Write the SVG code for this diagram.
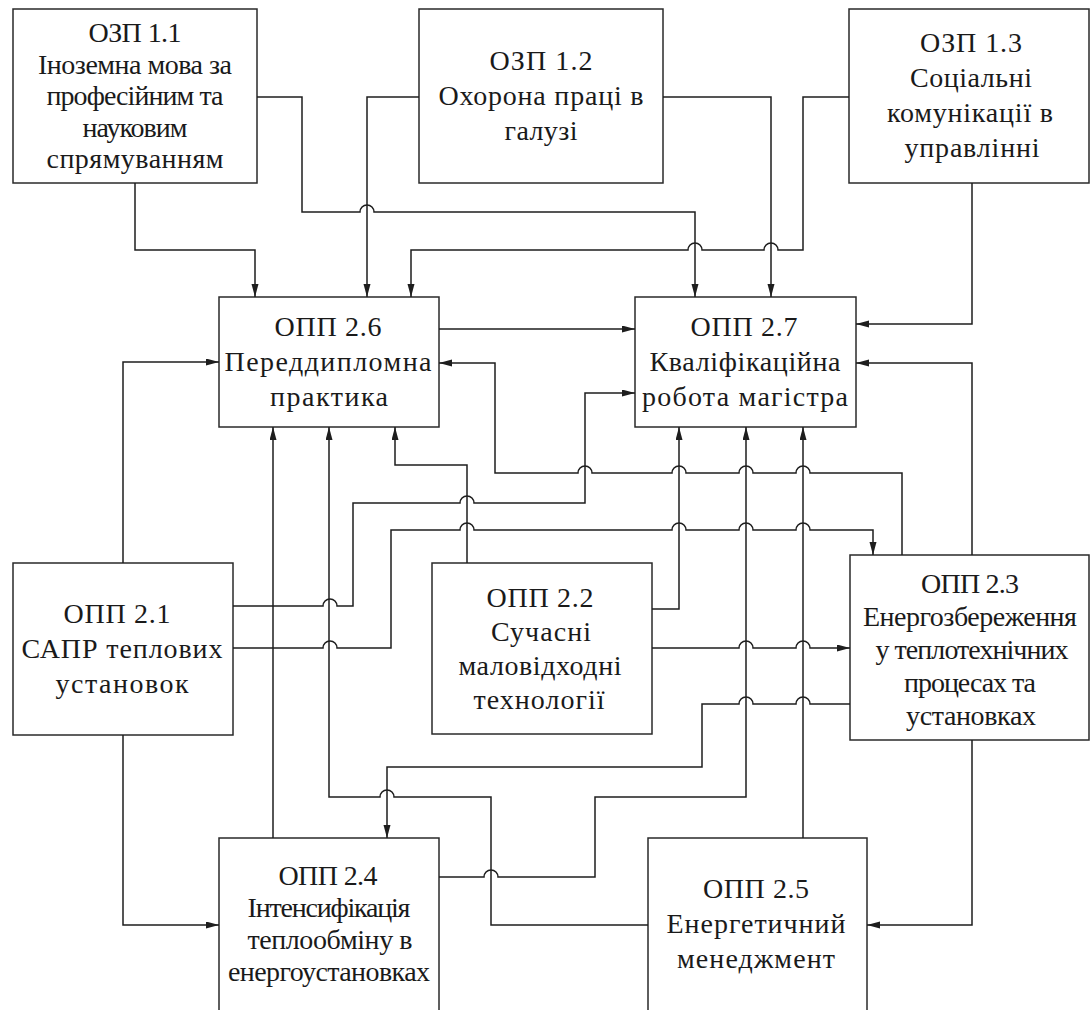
<svg xmlns="http://www.w3.org/2000/svg" width="1091" height="1010" viewBox="0 0 1091 1010">
<style>
.box{fill:#fff;stroke:#2a2a2a;stroke-width:1.5}
.c{fill:none;stroke:#1e1e1e;stroke-width:1.5}
.arr{marker-end:url(#ah)}
text{font-family:"Liberation Serif","Times New Roman",serif;font-size:28px;fill:#1a1a1a;text-anchor:middle}
</style>
<defs>
<marker id="ah" markerUnits="userSpaceOnUse" markerWidth="13" markerHeight="8" refX="13" refY="3.5" orient="auto">
<path d="M0,0 L13,3.5 L0,7 Z" fill="#1e1e1e"/>
</marker>
</defs>
<rect width="1091" height="1010" fill="#fff"/>
<g id="ozp11"><rect class="box" x="13" y="9" width="244" height="174"/>
<text x="135" y="42" textLength="93" lengthAdjust="spacing">ОЗП 1.1</text>
<text x="135" y="73.5" textLength="194" lengthAdjust="spacing">Іноземна мова за</text>
<text x="135" y="105" textLength="177" lengthAdjust="spacing">професійним та</text>
<text x="135" y="136.5" textLength="105" lengthAdjust="spacing">науковим</text>
<text x="135" y="168" textLength="177" lengthAdjust="spacing">спрямуванням</text></g>
<g id="ozp12"><rect class="box" x="419" y="9" width="244" height="174"/>
<text x="541" y="70" textLength="103" lengthAdjust="spacing">ОЗП 1.2</text>
<text x="541" y="105" textLength="205" lengthAdjust="spacing">Охорона праці в</text>
<text x="541" y="140" textLength="73" lengthAdjust="spacing">галузі</text></g>
<g id="ozp13"><rect class="box" x="849" y="9" width="240" height="174"/>
<text x="971" y="52" textLength="102" lengthAdjust="spacing">ОЗП 1.3</text>
<text x="971" y="87" textLength="122" lengthAdjust="spacing">Соціальні</text>
<text x="970" y="122" textLength="166" lengthAdjust="spacing">комунікації в</text>
<text x="972" y="157" textLength="135" lengthAdjust="spacing">управлінні</text></g>
<g id="opp26"><rect class="box" x="219" y="297" width="220" height="130"/>
<text x="328" y="336" textLength="107" lengthAdjust="spacing">ОПП 2.6</text>
<text x="328" y="371" textLength="207" lengthAdjust="spacing">Переддипломна</text>
<text x="329" y="406" textLength="118" lengthAdjust="spacing">практика</text></g>
<g id="opp27"><rect class="box" x="635" y="297" width="221" height="130"/>
<text x="744" y="336" textLength="107" lengthAdjust="spacing">ОПП 2.7</text>
<text x="745" y="371" textLength="191" lengthAdjust="spacing">Кваліфікаційна</text>
<text x="745" y="406" textLength="206" lengthAdjust="spacing">робота магістра</text></g>
<g id="opp21"><rect class="box" x="13" y="563" width="220" height="172"/>
<text x="117" y="623" textLength="107" lengthAdjust="spacing">ОПП 2.1</text>
<text x="122" y="658" textLength="201" lengthAdjust="spacing">САПР теплових</text>
<text x="122" y="693" textLength="133" lengthAdjust="spacing">установок</text></g>
<g id="opp22"><rect class="box" x="432" y="563" width="220" height="171"/>
<text x="540" y="607" textLength="107" lengthAdjust="spacing">ОПП 2.2</text>
<text x="541" y="641" textLength="100" lengthAdjust="spacing">Сучасні</text>
<text x="540" y="675" textLength="163" lengthAdjust="spacing">маловідходні</text>
<text x="539" y="709" textLength="131" lengthAdjust="spacing">технології</text></g>
<g id="opp23"><rect class="box" x="850" y="555" width="239" height="185"/>
<text x="970" y="593" textLength="98" lengthAdjust="spacing">ОПП 2.3</text>
<text x="970" y="626" textLength="214" lengthAdjust="spacing">Енергозбереження</text>
<text x="972" y="659" textLength="193" lengthAdjust="spacing">у теплотехнічних</text>
<text x="970" y="692" textLength="132" lengthAdjust="spacing">процесах та</text>
<text x="971" y="725" textLength="130" lengthAdjust="spacing">установках</text></g>
<g id="opp24"><rect class="box" x="219" y="838" width="220" height="190"/>
<text x="328" y="885" textLength="99" lengthAdjust="spacing">ОПП 2.4</text>
<text x="329" y="917" textLength="163" lengthAdjust="spacing">Інтенсифікація</text>
<text x="330" y="949" textLength="165" lengthAdjust="spacing">теплообміну в</text>
<text x="329" y="981" textLength="202" lengthAdjust="spacing">енергоустановках</text></g>
<g id="opp25"><rect class="box" x="648" y="838" width="219" height="190"/>
<text x="756" y="898" textLength="106" lengthAdjust="spacing">ОПП 2.5</text>
<text x="756" y="933" textLength="179" lengthAdjust="spacing">Енергетичний</text>
<text x="756" y="968" textLength="158" lengthAdjust="spacing">менеджмент</text></g>
<g id="connectors">
<path class="c arr" d="M135,183 V250 H255 V297"/>
<path class="c arr" d="M257,97 H302 V212 H360 a7,7 0 0 1 14,0 H695 V297"/>
<path class="c arr" d="M419,97 H367 V297"/>
<path class="c arr" d="M663,97 H771 V297"/>
<path class="c arr" d="M849,97 H803 V250 H778 a7,7 0 0 0 -14,0 H702 a7,7 0 0 0 -14,0 H411 V297"/>
<path class="c arr" d="M972,183 V324 H856"/>
<path class="c arr" d="M439,329 H635"/>
<path class="c arr" d="M123,563 V362 H219"/>
<path class="c arr" d="M902,555 V473 H810 a7,7 0 0 0 -14,0 H753 a7,7 0 0 0 -14,0 H686 a7,7 0 0 0 -14,0 H592 a7,7 0 0 0 -14,0 H495 V363 H439"/>
<path class="c arr" d="M233,606 H323 a7,7 0 0 1 14,0 H353 V503 H460 a7,7 0 0 1 14,0 H585 V393 H635"/>
<path class="c arr" d="M233,648 H323 a7,7 0 0 1 14,0 H391 V530 H460 a7,7 0 0 1 14,0 H672 a7,7 0 0 1 14,0 H739 a7,7 0 0 1 14,0 H796 a7,7 0 0 1 14,0 H873 V555"/>
<path class="c arr" d="M467,563 V465 H395 V427"/>
<path class="c arr" d="M273,838 V427"/>
<path class="c arr" d="M648,925 H491 V797 H394 a7,7 0 0 0 -14,0 H329 V427"/>
<path class="c arr" d="M652,609 H679 V427"/>
<path class="c arr" d="M439,877 H484 a7,7 0 0 1 14,0 H595 V797 H746 V427"/>
<path class="c arr" d="M803,838 V427"/>
<path class="c arr" d="M652,648 H739 a7,7 0 0 1 14,0 H796 a7,7 0 0 1 14,0 H850"/>
<path class="c arr" d="M850,704 H810 a7,7 0 0 0 -14,0 H753 a7,7 0 0 0 -14,0 H702 V767 H387 V838"/>
<path class="c arr" d="M972,555 V363 H856"/>
<path class="c arr" d="M972,740 V925 H867"/>
<path class="c arr" d="M123,735 V925 H219"/>
</g>
</svg>
